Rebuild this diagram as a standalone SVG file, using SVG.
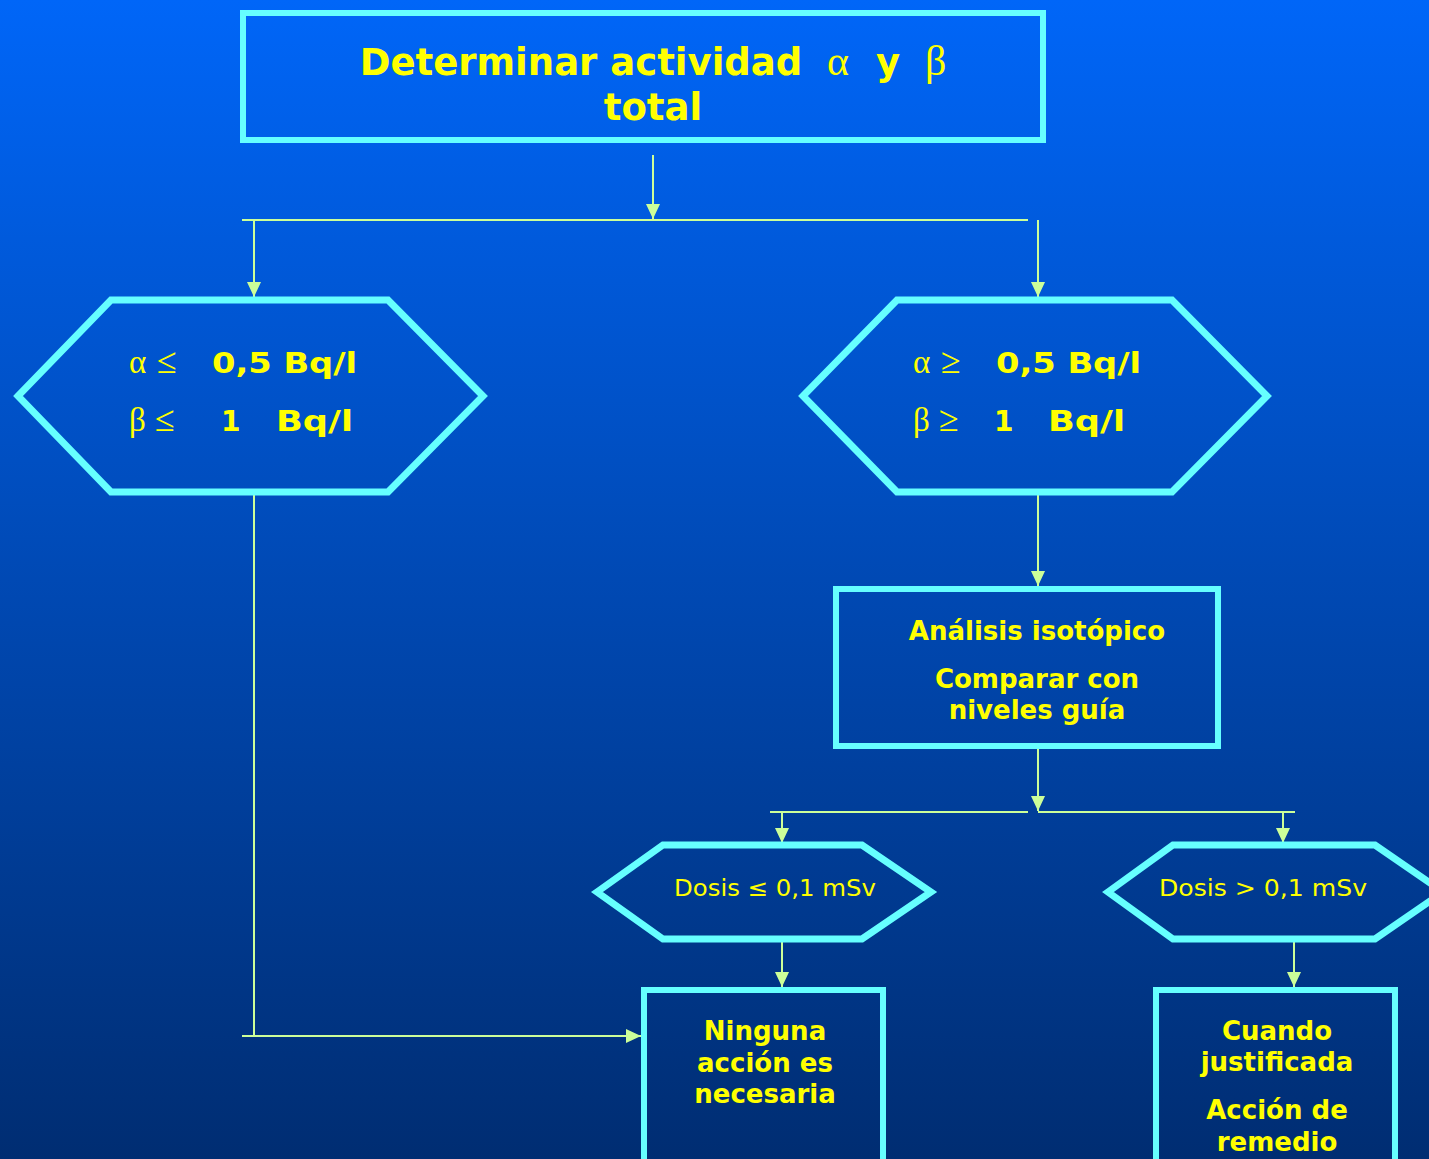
<svg xmlns="http://www.w3.org/2000/svg" width="1429" height="1159" viewBox="0 0 1429 1159">
<defs>
<linearGradient id="bg" x1="0" y1="0" x2="0" y2="1159" gradientUnits="userSpaceOnUse">
<stop offset="0" stop-color="#0066f8"/>
<stop offset="0.5" stop-color="#0049b4"/>
<stop offset="1" stop-color="#002d72"/>
</linearGradient>
<marker id="ah" markerWidth="16" markerHeight="16" refX="15" refY="8" orient="auto" markerUnits="userSpaceOnUse">
<path d="M0,1 L15,8 L0,15 Z" fill="#ccff99"/>
</marker>
<style>
.node{fill:url(#bg);stroke:#66ffff;stroke-width:6}
.hex{stroke-width:7}
.con{stroke:#ccff99;stroke-width:2;fill:none}
.b{font-family:"DejaVu Sans","Verdana",sans-serif;font-weight:bold;fill:#ffff00}
.r{font-family:"DejaVu Sans","Verdana",sans-serif;fill:#ffff00}
.g{font-family:"Liberation Serif","Times New Roman",serif;fill:#ffff00}
</style>
</defs>
<rect width="1429" height="1159" fill="url(#bg)"/>

<g id="connectors">
<line class="con" x1="653" y1="155" x2="653" y2="219" marker-end="url(#ah)"/>
<line class="con" x1="242" y1="220" x2="1028" y2="220"/>
<line class="con" x1="254" y1="220" x2="254" y2="297" marker-end="url(#ah)"/>
<line class="con" x1="1038" y1="220" x2="1038" y2="297" marker-end="url(#ah)"/>
<line class="con" x1="1038" y1="495" x2="1038" y2="586" marker-end="url(#ah)"/>
<line class="con" x1="1038" y1="749" x2="1038" y2="811" marker-end="url(#ah)"/>
<line class="con" x1="770" y1="812" x2="1028" y2="812"/>
<line class="con" x1="1038" y1="812" x2="1295" y2="812"/>
<line class="con" x1="782" y1="812" x2="782" y2="843" marker-end="url(#ah)"/>
<line class="con" x1="1283" y1="812" x2="1283" y2="843" marker-end="url(#ah)"/>
<line class="con" x1="782" y1="942" x2="782" y2="987" marker-end="url(#ah)"/>
<line class="con" x1="1294" y1="942" x2="1294" y2="987" marker-end="url(#ah)"/>
<polyline class="con" points="254,495 254,1036"/>
<line class="con" x1="242" y1="1036" x2="641" y2="1036" marker-end="url(#ah)"/>
</g>

<g id="n-determinar">
<rect class="node" x="243" y="13" width="800" height="127"/>
<text class="b" x="581" y="75" font-size="37" text-anchor="middle">Determinar actividad</text>
<text class="g" x="827" y="75" font-size="42">α</text>
<text class="b" x="876" y="75" font-size="37">y</text>
<text class="g" x="925" y="75" font-size="42">β</text>
<text class="b" x="653" y="120" font-size="37" text-anchor="middle">total</text>
</g>

<g id="n-bajo">
<polygon class="node hex" points="18,396 111,300 388,300 483,396 388,492 111,492"/>
<text class="g" x="129" y="373" font-size="33">α</text>
<text class="g" x="157" y="373" font-size="36">≤</text>
<text class="b" x="212" y="373" font-size="28" textLength="145" lengthAdjust="spacingAndGlyphs">0,5 Bq/l</text>
<text class="g" x="129" y="431" font-size="33">β</text>
<text class="g" x="155" y="431" font-size="36">≤</text>
<text class="b" x="221" y="431" font-size="28">1</text>
<text class="b" x="276" y="431" font-size="28" textLength="77" lengthAdjust="spacingAndGlyphs">Bq/l</text>
</g>

<g id="n-alto">
<polygon class="node hex" points="803,396 897,300 1172,300 1267,396 1172,492 897,492"/>
<text class="g" x="913" y="373" font-size="33">α</text>
<text class="g" x="941" y="373" font-size="36">≥</text>
<text class="b" x="996" y="373" font-size="28" textLength="145" lengthAdjust="spacingAndGlyphs">0,5 Bq/l</text>
<text class="g" x="913" y="431" font-size="33">β</text>
<text class="g" x="939" y="431" font-size="36">≥</text>
<text class="b" x="994" y="431" font-size="28">1</text>
<text class="b" x="1048" y="431" font-size="28" textLength="77" lengthAdjust="spacingAndGlyphs">Bq/l</text>
</g>

<g id="n-analisis">
<rect class="node" x="836" y="589" width="382" height="157"/>
<text class="b" x="1037" y="640" font-size="26" text-anchor="middle">Análisis isotópico</text>
<text class="b" x="1037" y="688" font-size="26" text-anchor="middle">Comparar con</text>
<text class="b" x="1037" y="719" font-size="26" text-anchor="middle">niveles guía</text>
</g>

<g id="n-dosis-baja">
<polygon class="node hex" points="597,892 663,845 862,845 931,892 862,939 663,939"/>
<text class="r" x="674" y="896" font-size="23" textLength="202" lengthAdjust="spacingAndGlyphs">Dosis ≤ 0,1 mSv</text>
</g>

<g id="n-dosis-alta">
<polygon class="node hex" points="1108,892 1173,845 1375,845 1443,892 1375,939 1173,939"/>
<text class="r" x="1159" y="896" font-size="23" textLength="208" lengthAdjust="spacingAndGlyphs">Dosis &gt; 0,1 mSv</text>
</g>

<g id="n-ninguna">
<rect class="node" x="644" y="990" width="239" height="200"/>
<text class="b" x="765" y="1040" font-size="26" text-anchor="middle">Ninguna</text>
<text class="b" x="765" y="1072" font-size="26" text-anchor="middle">acción es</text>
<text class="b" x="765" y="1103" font-size="26" text-anchor="middle">necesaria</text>
</g>

<g id="n-remedio">
<rect class="node" x="1156" y="990" width="239" height="200"/>
<text class="b" x="1277" y="1040" font-size="26" text-anchor="middle">Cuando</text>
<text class="b" x="1277" y="1071" font-size="26" text-anchor="middle">justificada</text>
<text class="b" x="1277" y="1119" font-size="26" text-anchor="middle">Acción de</text>
<text class="b" x="1277" y="1151" font-size="26" text-anchor="middle">remedio</text>
</g>
</svg>
